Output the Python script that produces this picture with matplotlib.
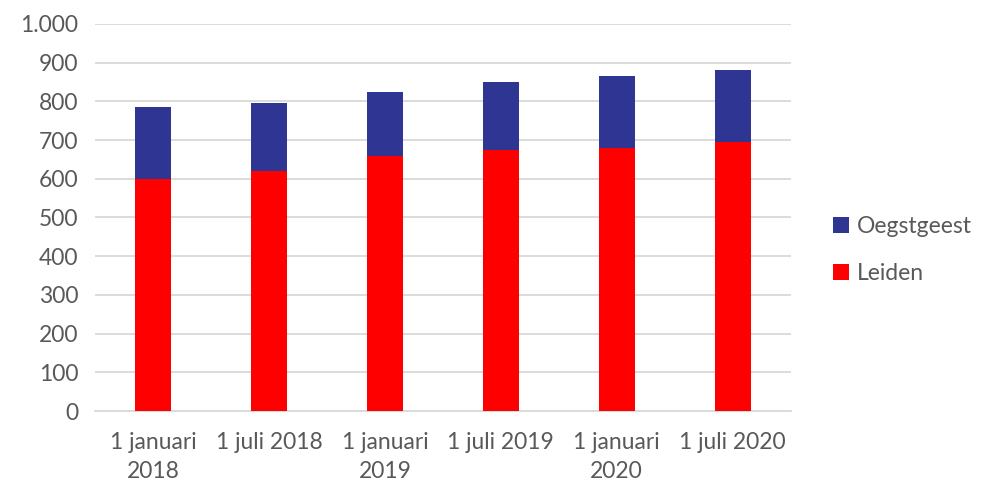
import matplotlib.pyplot as plt
import numpy as np

# data
periods = ["1 januari\n2018", "1 juli 2018", "1 januari\n2019",
           "1 juli 2019", "1 januari\n2020", "1 juli 2020"]
leiden = [600, 620, 660, 675, 680, 695]
oegstgeest = [185, 175, 165, 175, 185, 185]

plt.rcParams['font.family'] = ['Lato', 'DejaVu Sans']
text_color = "#595959"

fig = plt.figure(figsize=(9.95, 4.86), dpi=100)
ax = fig.add_axes([0.0955, 0.154, 0.699, 0.797])

x = np.arange(len(periods))
w = 0.31
ax.bar(x, leiden, w, color="#ff0000", label="Leiden", zorder=3)
ax.bar(x, oegstgeest, w, bottom=leiden, color="#2e3592", label="Oegstgeest", zorder=3)

ax.set_xlim(-0.5, len(periods) - 0.5)
ax.set_ylim(0, 1000)
ax.set_yticks(range(0, 1001, 100))
ax.set_yticklabels([f"{v:,}".replace(",", ".") for v in range(0, 1001, 100)])
ax.set_xticks(x)
ax.set_xticklabels(periods, linespacing=1.45)

ax.grid(axis="y", color="#d9d9d9", linewidth=1.3, zorder=0)
for s in ["top", "right", "left"]:
    ax.spines[s].set_visible(False)
ax.spines["bottom"].set_color("#d9d9d9")
ax.spines["bottom"].set_linewidth(1.3)
ax.tick_params(length=0, labelsize=16.5, colors=text_color)
ax.tick_params(axis="x", pad=15)
ax.tick_params(axis="y", pad=12)

handles, labels = ax.get_legend_handles_labels()
fig.legend(handles[::-1], labels[::-1], loc="center left",
           bbox_to_anchor=(0.816, 0.485), frameon=False, fontsize=16.5,
           labelcolor=text_color, handlelength=0.7, handleheight=0.7,
           handletextpad=0.35, labelspacing=1.15)

fig.savefig("out.png", dpi=100)
